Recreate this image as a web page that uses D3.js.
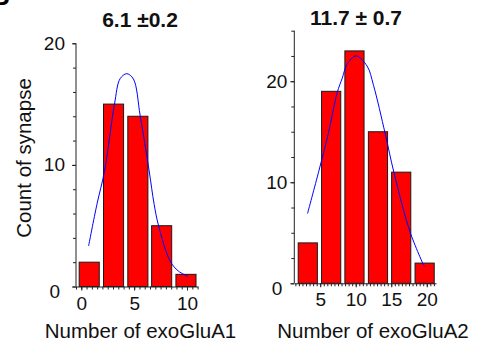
<!DOCTYPE html>
<html>
<head>
<meta charset="utf-8">
<script src="https://cdn.jsdelivr.net/npm/d3@7"></script>
<style>
  body { margin: 0; background: #fff; }
  svg { display: block; font-family: Arial, "Liberation Sans", sans-serif; }
</style>
</head>
<body>
<svg id="chart" width="481" height="342"></svg>
<script>
// histogram of exoGluA1 per synapse
const binsA1 = [0.75, 3.05, 5.35, 7.6, 9.9];
const countsA1 = [2, 15, 14, 5, 1];
const fitA1X = [0.69, 1.48, 2.2, 3.14, 3.68, 4.31, 4.93, 5.57, 6.42, 6.89, 7.3, 8.4, 9.18, 10.07];
const fitA1Y = [3.33, 6.76, 9.5, 15.0, 17.1, 17.5, 17.06, 14.05, 9.5, 6.76, 5.03, 2.1, 1.27, 0.84];

// histogram of exoGluA2 per synapse
const binsA2 = [3.25, 6.54, 9.82, 13.13, 16.4, 19.7];
const countsA2 = [4, 19, 23, 15, 11, 2];
const fitA2X = [3.21, 4.8, 6.15, 7.4, 8.1, 8.8, 10.05, 11.6, 12.5, 14.15, 15.4, 17.64, 19.64];
const fitA2Y = [6.9, 11.1, 14.85, 18.9, 20.3, 21.7, 22.5, 21.5, 19.6, 14.8, 10.9, 5.1, 1.65];

// tick labels
const yTicksA1 = [0, 10, 20];
const xTicksA1 = [0, 5, 10];
const yTicksA2 = [0, 10, 20];
const xTicksA2 = [5, 10, 15, 20];

const titles = ["6.1 \u00b10.2", "11.7 \u00b1 0.7"];
const xTitles = ["Number of exoGluA1", "Number of exoGluA2"];
const yTitle = "Count of synapse";

const svg = d3.select("#chart");

function minorRange(a, b, step) {
  const out = [];
  for (let v = a; v <= b + 1e-9; v += step) out.push(+v.toFixed(3));
  return out;
}

function DrawPanel(p) {
  const X = d3.scaleLinear().domain(p.xDomain).range(p.xRange);
  const Y = d3.scaleLinear().domain(p.yDomain).range(p.yRange);
  const g = svg.append("g");

  // bars
  const pxW = X(p.barW) - X(0);
  g.append("g")
    .selectAll("rect")
    .data(p.bins)
    .join("rect")
    .attr("x", (d) => X(d) - pxW / 2)
    .attr("width", pxW)
    .attr("y", (d, i) => Y(p.counts[i]))
    .attr("height", (d, i) => Y(0) - Y(p.counts[i]))
    .attr("fill", "#ff0000")
    .attr("stroke", "#1a1a1a")
    .attr("stroke-width", 1);

  // fitted curve
  const line = d3.line()
    .x((d) => X(d[0]))
    .y((d) => Y(d[1]))
    .curve(d3.curveCatmullRom.alpha(0.5));
  g.append("path")
    .datum(p.fitX.map((x, i) => [x, p.fitY[i]]))
    .attr("d", line)
    .attr("fill", "none")
    .attr("stroke", "#0000ff")
    .attr("stroke-width", 1);

  // minor ticks
  g.append("g")
    .attr("transform", `translate(${p.xRange[0]},0)`)
    .call(d3.axisLeft(Y).tickValues(p.yMinor).tickSize(3).tickFormat(""))
    .call((s) => s.select(".domain").remove());
  g.append("g")
    .attr("transform", `translate(0,${Y(0)})`)
    .call(d3.axisBottom(X).tickValues(p.xMinor).tickSize(3).tickFormat(""))
    .call((s) => s.select(".domain").remove());

  // major axes
  const yAx = g.append("g")
    .attr("transform", `translate(${p.xRange[0]},0)`)
    .call(d3.axisLeft(Y).tickValues(p.yTicks).tickSize(4).tickPadding(p.yPad).tickSizeOuter(0));
  yAx.selectAll("text")
    .attr("dx", (d) => (d === 0 ? -5 : 0))
    .attr("dy", (d) => (d === 0 ? "0.6em" : "0.32em"));
  yAx.select(".domain").attr("d", `M0,${Y(0)}V${Y(p.yDomain[1])}`);

  g.append("g")
    .attr("transform", `translate(0,${Y(0)})`)
    .call(d3.axisBottom(X).tickValues(p.xTicks).tickSize(4).tickPadding(p.xPad).tickSizeOuter(0));

  g.selectAll(".tick text")
    .attr("font-size", 19)
    .attr("font-family", "Arial, 'Liberation Sans', sans-serif")
    .attr("fill", "#111");
  g.selectAll(".tick line, .domain").attr("stroke", "#222");

  // title
  g.append("text")
    .attr("x", p.titleX)
    .attr("y", p.titleY)
    .attr("text-anchor", "middle")
    .attr("font-weight", "bold")
    .attr("font-size", 21)
    .attr("fill", "#111")
    .text(p.title);

  // x axis title
  g.append("text")
    .attr("x", p.xTitleX)
    .attr("y", 338)
    .attr("text-anchor", "middle")
    .attr("font-size", 20.5)
    .attr("fill", "#111")
    .text(p.xTitle);
}

DrawPanel({
  bins: binsA1, counts: countsA1, fitX: fitA1X, fitY: fitA1Y, barW: 1.9,
  xDomain: [-0.5, 11], xRange: [76, 197.6],
  yDomain: [0, 20], yRange: [286.5, 43.3],
  yTicks: yTicksA1, xTicks: xTicksA1,
  yMinor: minorRange(0, 20, 2), xMinor: minorRange(-0.5, 11, 0.5),
  yPad: 7, xPad: 6,
  title: titles[0], titleX: 140, titleY: 27,
  xTitle: xTitles[0], xTitleX: 140.5
});

DrawPanel({
  bins: binsA2, counts: countsA2, fitX: fitA2X, fitY: fitA2Y, barW: 2.7,
  xDomain: [1.35, 21.3], xRange: [294.3, 436],
  yDomain: [0, 25], yRange: [283.3, 30.7],
  yTicks: yTicksA2, xTicks: xTicksA2,
  yMinor: minorRange(0, 25, 2.5), xMinor: minorRange(1.5, 21, 0.5),
  yPad: 3, xPad: 5.5,
  title: titles[1], titleX: 356, titleY: 25,
  xTitle: xTitles[1], xTitleX: 373
});

// shared y axis title
svg.append("text")
  .attr("transform", "translate(31,158) rotate(-90)")
  .attr("text-anchor", "middle")
  .attr("font-size", 20.5)
  .attr("fill", "#111")
  .text(yTitle);

// panel letter, cut off by the top-left corner as in the source figure
svg.append("text")
  .attr("x", -9)
  .attr("y", 5)
  .attr("font-weight", "bold")
  .attr("font-size", 26)
  .attr("fill", "#000")
  .text("B");
</script>
</body>
</html>
